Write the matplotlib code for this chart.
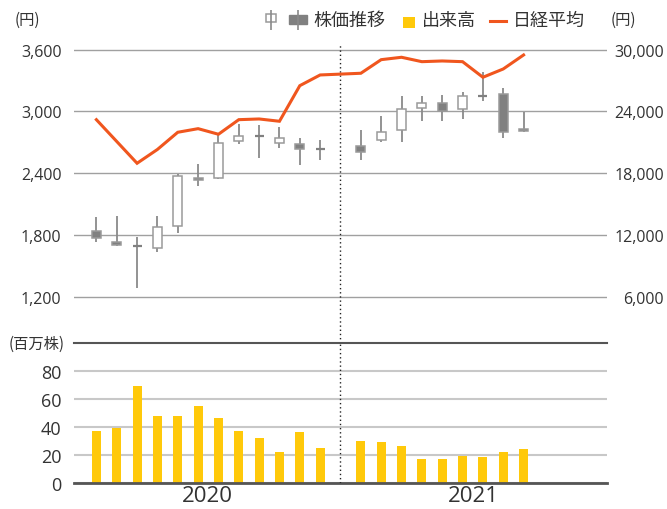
import matplotlib
matplotlib.use("Agg")
import matplotlib.pyplot as plt
from matplotlib.patches import Rectangle
from matplotlib.transforms import blended_transform_factory

JP = ["Noto Sans CJK JP", "DejaVu Sans"]
NUM = ["Open Sans", "DejaVu Sans"]
TXT = "#333333"

# month slots: 2020 = 0..11, gap at 12, 2021 = 13..21
idx = list(range(12)) + list(range(13, 22))
years = ["2020", "2021"]

# monthly candles (yen)
open_ = [1840, 1736, 1691, 1675, 1885, 2357, 2351, 2714, 2765, 2691, 2682, 2633,
         2662, 2720, 2820, 3037, 3080, 3024, 3160, 3170, 2830]
close = [1772, 1704, 1691, 1882, 2377, 2332, 2691, 2765, 2760, 2746, 2639, 2633,
         2604, 2798, 3027, 3083, 3005, 3153, 3150, 2804, 2815]
high = [1973, 1988, 1779, 1982, 2393, 2490, 2782, 2879, 2872, 2852, 2746, 2723,
        2820, 2959, 3153, 3150, 3160, 3186, 3386, 3228, 2992]
low = [1730, 1695, 1286, 1639, 1817, 2274, 2345, 2687, 2549, 2643, 2481, 2526,
       2529, 2707, 2707, 2905, 2911, 2927, 3099, 2740, 2804]

# volume (million shares)
volume = [37.1, 39.2, 69.4, 47.8, 47.8, 55.0, 46.4, 37.1, 32.0, 22.0, 36.4, 24.9,
          29.9, 29.2, 26.3, 17.0, 17.0, 19.1, 18.4, 22.0, 24.2]

# Nikkei average (yen)
nikkei = [23206, 21091, 18975, 20314, 21983, 22333, 21790, 23206, 23274, 23051,
          26506, 27545, 27710, 29030, 29262, 28835, 28903, 28835, 27321, 28127, 29486]

left_ticks = [1200, 1800, 2400, 3000, 3600]
right_ticks = [6000, 12000, 18000, 24000, 30000]
vol_ticks = [0, 20, 40, 60, 80]

W, H = 667, 510
fig = plt.figure(figsize=(W / 100, H / 100), dpi=100)


def box(x0, y0, x1, y1):
    return [x0 / W, 1 - y1 / H, (x1 - x0) / W, (y1 - y0) / H]


XL = (-1.1, 25.1)

# --- price panel ---
ax = fig.add_axes(box(74, 45, 607, 344))
ax.patch.set_visible(False)
ax.set_xlim(*XL)
ax.set_ylim(753, 3655)
ax.set_yticks(left_ticks)
ax.set_yticklabels([f"{v:,}" for v in left_ticks], family=NUM, fontsize=11.5, color=TXT)
ax.tick_params(axis="y", length=0, pad=9)
ax.set_xticks([])
ax.grid(axis="y", color="#a0a0a0", lw=1)
for s in ax.spines.values():
    s.set_visible(False)
ax.axvline(12, color="#222222", lw=1, ls=(0, (1, 2)))

bw = 0.44
for x, o, c, h, l in zip(idx, open_, close, high, low):
    ax.vlines(x, l, h, color="#8a8a8a", lw=1.3, zorder=2)
    lo, hi = min(o, c), max(o, c)
    if hi - lo < 12:
        ax.hlines((o + c) / 2, x - bw / 2, x + bw / 2, color="#808080", lw=1.6, zorder=3)
    else:
        face = "white" if c > o else "#808080"
        ax.add_patch(Rectangle((x - bw / 2, lo), bw, hi - lo, facecolor=face,
                               edgecolor="#9a9a9a", lw=1.1, zorder=3))

axr = ax.twinx()
axr.set_ylim(10 * 753 - 6000, 10 * 3655 - 6000)
axr.set_yticks(right_ticks)
axr.set_yticklabels([f"{v:,}" for v in right_ticks], family=NUM, fontsize=11.5,
                    color=TXT, ha="right")
axr.tick_params(axis="y", length=0, pad=41)
for s in axr.spines.values():
    s.set_visible(False)
axr.plot(idx, nikkei, color="#f0561e", lw=2.2, solid_joinstyle="miter", zorder=4)

# --- volume panel ---
axb = fig.add_axes(box(74, 344.4, 607, 483.7))
axb.patch.set_visible(False)
axb.set_xlim(*XL)
axb.set_ylim(0, 100)
axb.set_yticks(vol_ticks)
axb.set_yticklabels([str(v) for v in vol_ticks], family=NUM, fontsize=13, color=TXT)
axb.tick_params(axis="y", length=0, pad=9)
axb.grid(axis="y", color="#c8c8c8", lw=1.5)
axb.set_axisbelow(True)
for k in ("left", "right"):
    axb.spines[k].set_visible(False)
axb.spines["top"].set_color("#555555")
axb.spines["top"].set_linewidth(1.5)
axb.spines["bottom"].set_color("#555555")
axb.spines["bottom"].set_linewidth(2)
axb.bar(idx, volume, width=bw, color="#ffc90a", zorder=2)
axb.axvline(12, color="#222222", lw=1, ls=(0, (1, 2)), zorder=3)
axb.set_xticks([(XL[0] + 12) / 2, (12 + XL[1]) / 2])
axb.set_xticklabels(years, family=NUM, fontsize=16, color=TXT)
axb.tick_params(axis="x", length=0, pad=2)
tr = blended_transform_factory(fig.transFigure, axb.transData)
axb.text(65 / W, 100, "(百万株)", transform=tr, ha="right", va="center",
         family=JP, fontsize=11, color=TXT)

# --- header / legend, in pixel space ---
ov = fig.add_axes([0, 0, 1, 1])
ov.set_xlim(0, W)
ov.set_ylim(H, 0)
ov.axis("off")
ov.text(40, 20, "(円)", ha="right", va="center", family=JP, fontsize=11, color=TXT)
ov.text(611, 20, "(円)", ha="left", va="center", family=JP, fontsize=11, color=TXT)
# candle icons
ov.vlines(271, 11, 31, color="#8a8a8a", lw=1.2)
ov.add_patch(Rectangle((266, 15), 10, 8, facecolor="white", edgecolor="#9a9a9a", lw=1.1))
ov.vlines(298, 11, 31, color="#8a8a8a", lw=1.2)
ov.add_patch(Rectangle((289, 16), 18, 9, facecolor="#808080", edgecolor="#808080", lw=1))
ov.text(313, 21, "株価推移", ha="left", va="center", family=JP, fontsize=13, color=TXT)
ov.add_patch(Rectangle((403, 18), 12, 11, facecolor="#ffc90a", edgecolor="none"))
ov.text(422, 21, "出来高", ha="left", va="center", family=JP, fontsize=13, color=TXT)
ov.plot([490, 506], [22, 22], color="#f0561e", lw=2.2)
ov.text(513, 21, "日経平均", ha="left", va="center", family=JP, fontsize=13, color=TXT)

fig.savefig("out.png", dpi=100)
